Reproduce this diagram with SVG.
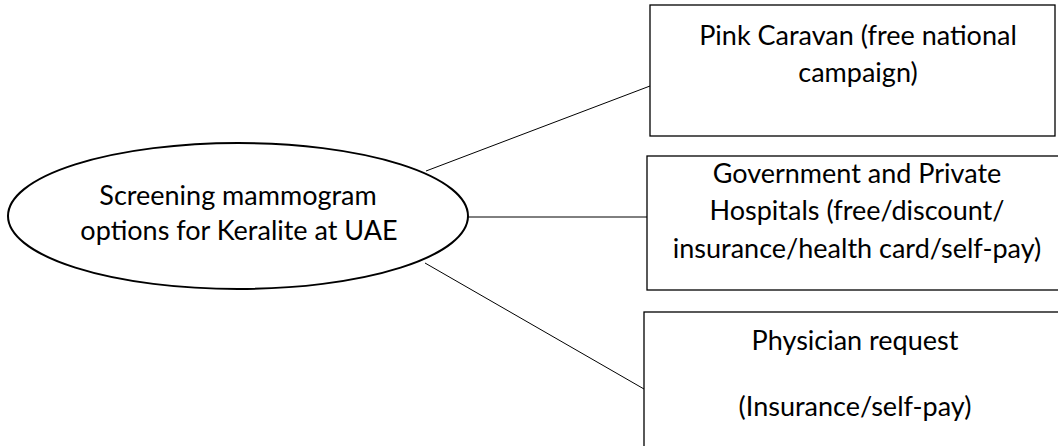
<svg xmlns="http://www.w3.org/2000/svg" width="1058" height="446" viewBox="0 0 1058 446">
<style>
.box{fill:#fff;stroke:#000;stroke-width:1.3}
.ell{fill:#fff;stroke:#000;stroke-width:2}
.t{font-family:Lato,"Open Sans",sans-serif;font-size:27px;fill:#000;text-anchor:middle}
.c{stroke:#000;stroke-width:1;fill:none}
</style>
<rect width="1058" height="446" fill="#fff"/>
<g id="connectors">
<line class="c" x1="426" y1="171" x2="650" y2="86"/>
<line class="c" x1="468" y1="217" x2="647" y2="217"/>
<line class="c" x1="425" y1="263" x2="644" y2="389"/>
</g>
<g id="center">
<ellipse class="ell" cx="238" cy="216" rx="230" ry="73"/>
<text class="t" x="238" y="205">Screening mammogram</text>
<text class="t" x="239" y="240">options for Keralite at UAE</text>
</g>
<g id="pink">
<rect class="box" x="650" y="5" width="405" height="131"/>
<text class="t" x="858" y="45">Pink Caravan (free national</text>
<text class="t" x="858" y="82">campaign)</text>
</g>
<g id="hospitals">
<rect class="box" x="647" y="156" width="420" height="134"/>
<text class="t" x="857" y="183">Government and Private</text>
<text class="t" x="857" y="220">Hospitals (free/discount/</text>
<text class="t" x="857" y="258">insurance/health card/self-pay)</text>
</g>
<g id="physician">
<rect class="box" x="644" y="312" width="430" height="150"/>
<text class="t" x="855" y="350">Physician request</text>
<text class="t" x="855" y="416">(Insurance/self-pay)</text>
</g>
</svg>
